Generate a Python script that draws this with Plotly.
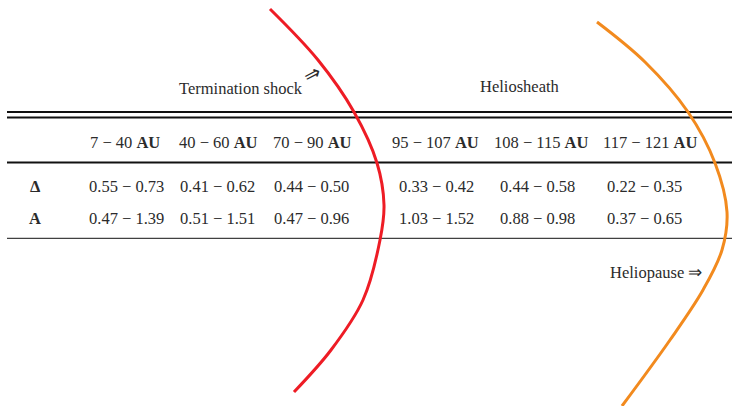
import plotly.graph_objects as go

# ---- data ----
ranges = ["7 − 40", "40 − 60", "70 − 90", "95 − 107", "108 − 115", "117 − 121"]
row_labels = ["Δ", "A"]
delta_vals = ["0.55 − 0.73", "0.41 − 0.62", "0.44 − 0.50", "0.33 − 0.42", "0.44 − 0.58", "0.22 − 0.35"]
a_vals = ["0.47 − 1.39", "0.51 − 1.51", "0.47 − 0.96", "1.03 − 1.52", "0.88 − 0.98", "0.37 − 0.65"]
region_labels = ["Termination shock", "Heliosheath", "Heliopause ⇒"]

# boundary curves (sketch points, x / y in page pixels)
ts_x = [270, 318, 354, 377, 384, 380, 363, 331, 294]
ts_y = [9, 60, 112, 163, 205, 240, 300, 350, 392]
hp_x = [597, 645, 688, 715, 727, 722, 703, 670, 622]
hp_y = [22, 62, 112, 163, 212, 250, 290, 340, 406]

# ---- layout helpers ----
W, H = 732, 406
FONT = "Liberation Serif"
TXT = "#2b2b2b"
FS = 16.5
head_x = [125, 218, 312, 435, 541, 650]
d_x = [126, 217, 311, 436, 537, 644]
y_head, y_r1, y_r2 = 142, 186, 218

fig = go.Figure()

# table rules
def hline(y, w, x0=7, x1=732):
    fig.add_trace(go.Scatter(x=[x0, x1], y=[y, y], mode="lines",
                             line=dict(color="#111111", width=w),
                             hoverinfo="skip", showlegend=False))

hline(112, 2)
hline(117.5, 2)
hline(162.5, 2)
hline(238.3, 1)

# curves
fig.add_trace(go.Scatter(x=ts_x, y=ts_y, mode="lines", line=dict(color="#ee1c25", width=3, shape="spline"),
                         hoverinfo="skip", showlegend=False))
fig.add_trace(go.Scatter(x=hp_x, y=hp_y, mode="lines", line=dict(color="#f28a1e", width=3, shape="spline"),
                         hoverinfo="skip", showlegend=False))

ann = []
def text(x, y, s, size=FS, angle=0):
    ann.append(dict(x=x, y=y, text=s, showarrow=False, xref="x", yref="y",
                    font=dict(family=FONT, size=size, color=TXT),
                    xanchor="center", yanchor="middle", textangle=angle))

for x, r in zip(head_x, ranges):
    text(x, y_head, f"{r} <b>AU</b>")
for x, v in zip(d_x, delta_vals):
    text(x, y_r1, v)
for x, v in zip(d_x, a_vals):
    text(x, y_r2, v)
text(35, y_r1, f"<b>{row_labels[0]}</b>")
text(35, y_r2, f"<b>{row_labels[1]}</b>")

text(241, 88, region_labels[0])
text(312, 74, "⇒", size=20, angle=-28)
text(520, 86, region_labels[1])
text(656, 272, region_labels[2])

fig.update_layout(
    width=W, height=H, margin=dict(l=0, r=0, t=0, b=0),
    paper_bgcolor="white", plot_bgcolor="white",
    xaxis=dict(range=[0, W], visible=False, fixedrange=True),
    yaxis=dict(range=[H, 0], visible=False, fixedrange=True),
    annotations=ann,
)
fig.write_html("out.html", config={"displayModeBar": False},
               post_script="document.body.style.margin='0';document.body.style.overflow='hidden';")
